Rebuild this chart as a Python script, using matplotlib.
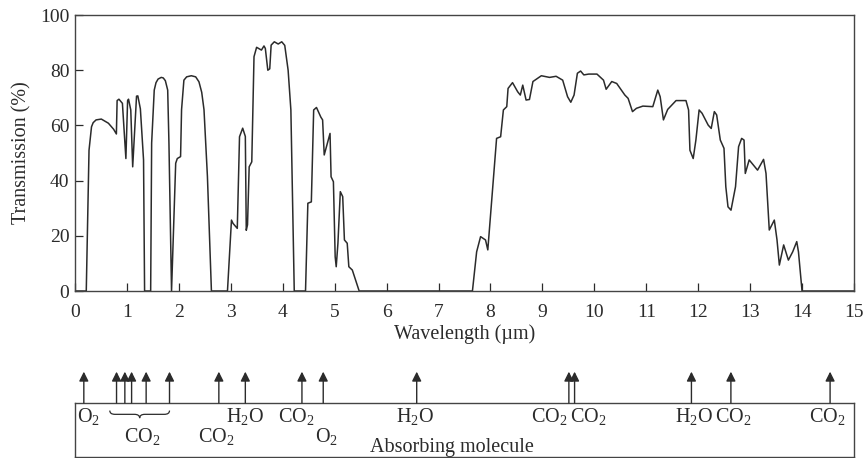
import matplotlib
matplotlib.use("Agg")
import matplotlib.pyplot as plt
import matplotlib.transforms as mtransforms
from matplotlib.path import Path
from matplotlib.patches import PathPatch

plt.rcParams['font.family'] = ['Liberation Serif', 'DejaVu Serif']
plt.rcParams['mathtext.fontset'] = 'custom'
plt.rcParams['mathtext.rm'] = 'Liberation Serif'
plt.rcParams['mathtext.it'] = 'Liberation Serif:italic'
plt.rcParams['mathtext.default'] = 'rm'

# transmission windows (wavelength in um, transmission in %)
wl_a = [0.0, 0.217, 0.27, 0.318, 0.35, 0.406, 0.507, 0.643, 0.744, 0.797, 0.811, 0.846,
        0.913, 0.980, 1.013, 1.031, 1.074, 1.111, 1.185, 1.21, 1.259, 1.32, 1.340]
tr_a = [0, 0, 51, 59.5, 61, 62, 62.3, 60.8, 58.6, 56.9, 69, 69.5,
        68, 48, 69, 69.5, 65.6, 45, 70.6, 70.7, 66, 47.5, 0]

wl_b = [1.457, 1.476, 1.526, 1.56, 1.60, 1.661, 1.70, 1.74, 1.785, 1.809, 1.859]
tr_b = [0, 53.6, 72.8, 75.5, 76.8, 77.4, 77.2, 76.2, 72.8, 53.6, 0]

wl_c = [1.939, 1.970, 2.033, 2.052, 2.097, 2.15, 2.24, 2.324, 2.387, 2.44, 2.484, 2.55, 2.627]
tr_c = [46.3, 48, 48.7, 65.7, 76.4, 77.6, 78, 77.6, 75.8, 72, 65.7, 41.5, 0]

wl_d = [2.936, 3.013, 3.043, 3.125, 3.168, 3.229, 3.280, 3.298, 3.322, 3.354, 3.404, 3.447,
        3.497, 3.590, 3.639, 3.665, 3.713, 3.750, 3.777, 3.838, 3.913, 3.981, 4.039, 4.104,
        4.157, 4.222]
tr_d = [0, 25.7, 24.5, 22.7, 55.9, 59, 56, 22, 24, 45, 46.8, 84.9,
        88.3, 87.3, 88.8, 87.9, 80, 80.5, 89.1, 90.3, 89.5, 90.3, 89, 80,
        65.6, 0]

wl_e = [4.439, 4.484, 4.551, 4.596, 4.650, 4.734, 4.768, 4.799, 4.911, 4.931, 4.976, 5.010,
        5.030, 5.063, 5.109, 5.155, 5.188, 5.242, 5.273, 5.340, 5.472]
tr_e = [0, 31.8, 32.3, 65.6, 66.5, 63, 62, 49.3, 57.1, 41.4, 39.6, 12.4,
        8.8, 17.3, 36, 34.2, 18.5, 17.3, 8.8, 7.6, 0]

wl_f = [7.653, 7.734, 7.810, 7.905, 7.949, 8.118, 8.196, 8.249, 8.314, 8.339,
        8.425, 8.524, 8.575, 8.622, 8.686, 8.751, 8.818, 8.980, 9.138, 9.264,
        9.391, 9.485, 9.547, 9.610, 9.674, 9.736, 9.798, 9.892, 10.051, 10.177,
        10.228, 10.336, 10.431, 10.588, 10.651, 10.735, 10.811, 10.935, 11.126, 11.222,
        11.268, 11.331, 11.413, 11.574, 11.765, 11.815, 11.841, 11.904, 11.956, 12.018,
        12.075, 12.193, 12.251, 12.311, 12.356, 12.426, 12.497, 12.532, 12.574, 12.632,
        12.719, 12.778, 12.837, 12.883, 12.907, 12.982, 13.143, 13.259, 13.306, 13.369,
        13.466, 13.518, 13.563, 13.646, 13.737, 13.820, 13.898, 13.931, 14.0, 15.0]
tr_f = [0, 14.2, 19.7, 18.5, 14.9, 55.3, 55.9, 65.6, 66.8, 73.4,
        75.5, 72.2, 71, 74.6, 69.2, 69.4, 75.9, 78, 77.4, 77.8,
        76.4, 70.4, 68.4, 71, 78.9, 79.7, 78.3, 78.6, 78.6, 76.4,
        73.1, 75.9, 75.2, 71, 69.8, 65, 66.2, 67, 66.8, 72.8,
        70.4, 62, 65.8, 69, 69, 65.6, 51, 48, 54.7, 65.6,
        64.4, 60.1, 58.9, 65, 63.8, 54.7, 51.7, 37.8, 30.5, 29.3,
        37.8, 52.3, 55.3, 54.7, 42.6, 47.5, 43.8, 47.7, 42.6, 22.1,
        25.7, 18.5, 9.4, 16.7, 11.2, 14.2, 17.9, 14.2, 0, 0]

# absorption lines (arrows) and the molecule labels in the box
arrow_wl = [0.17, 0.80, 0.96, 1.09, 1.37, 1.82, 2.77, 3.28, 4.37, 4.78,
            6.58, 9.51, 9.62, 11.87, 12.63, 14.54]
mol_labels = ["O$_2$", "CO$_2$", "CO$_2$", "H$_2$O", "CO$_2$", "O$_2$",
              "H$_2$O", "CO$_2$", "CO$_2$", "H$_2$O", "CO$_2$", "CO$_2$"]
mol_wl = [0.26, 1.29, 2.71, 3.28, 4.26, 4.85, 6.55, 9.13, 9.89, 11.92, 12.67, 14.49]
mol_low = [False, True, True, False, False, True, False, False, False, False, False, False]
co2_group = [0.80, 0.96, 1.09, 1.37, 1.82]

wavelength = wl_a + wl_b + wl_c + wl_d + wl_e + wl_f
transmission = tr_a + tr_b + tr_c + tr_d + tr_e + tr_f

ink = '#2b2b2b'
fs = 14.5

fig = plt.figure(figsize=(8.64, 4.58), dpi=100)
ax = fig.add_axes([0.0868, 0.3646, 0.9016, 0.6026])
ax.plot(wavelength, transmission, color=ink, lw=1.1)
ax.set_xlim(0, 15)
ax.set_ylim(0, 100)
ax.set_xticks(range(16))
ax.set_yticks(range(0, 101, 20))
ax.tick_params(direction='in', length=6, width=0.9, colors=ink, labelsize=14)
ax.tick_params(axis='x', pad=9)
ax.tick_params(axis='y', pad=4)
for sp in ax.spines.values():
    sp.set_color('#444444')
    sp.set_linewidth(1.0)
ax.set_xlabel('Wavelength (µm)', fontsize=fs, color=ink, labelpad=3)
ax.set_ylabel('Transmission (%)', fontsize=fs, color=ink, labelpad=6)

# bottom box with absorbing molecules
bx = fig.add_axes([0.0868, 0.0022, 0.9016, 0.1179])
bx.set_xlim(0, 15)
bx.set_ylim(0, 1)
bx.set_xticks([])
bx.set_yticks([])
for sp in bx.spines.values():
    sp.set_color('#444444')
    sp.set_linewidth(1.0)
trans = mtransforms.blended_transform_factory(bx.transData, bx.transAxes)

for x in arrow_wl:
    bx.annotate('', xy=(x, 1.58), xycoords=trans, xytext=(x, 1.0), textcoords=trans,
                annotation_clip=False,
                arrowprops=dict(arrowstyle='-|>', color=ink, lw=1.0,
                                mutation_scale=14, shrinkA=0, shrinkB=0))

for lab, x, low in zip(mol_labels, mol_wl, mol_low):
    y = 0.38 if low else 0.75
    bx.text(x, y, lab, transform=trans, ha='center', va='center', fontsize=fs, color=ink)

bx.text(7.25, 0.17, 'Absorbing molecule', transform=trans, ha='center', va='center',
        fontsize=fs, color=ink)

# curly brace under the CO2 group
x0, x1 = co2_group[0] - 0.13, co2_group[-1]
xm = (x0 + x1) / 2
ytop, ymid, ybot = 0.86, 0.79, 0.72
r = 0.1
verts = [(x0, ytop), (x0, ymid), (x0 + r, ymid), (xm - r, ymid), (xm, ymid), (xm, ybot),
         (xm, ymid), (xm + r, ymid), (x1 - r, ymid), (x1, ymid), (x1, ytop)]
codes = [Path.MOVETO, Path.CURVE3, Path.CURVE3, Path.LINETO, Path.CURVE3, Path.CURVE3,
         Path.CURVE3, Path.CURVE3, Path.LINETO, Path.CURVE3, Path.CURVE3]
bx.add_patch(PathPatch(Path(verts, codes), transform=trans, fill=False, ec=ink, lw=0.9))

fig.savefig('out.png', dpi=100)
